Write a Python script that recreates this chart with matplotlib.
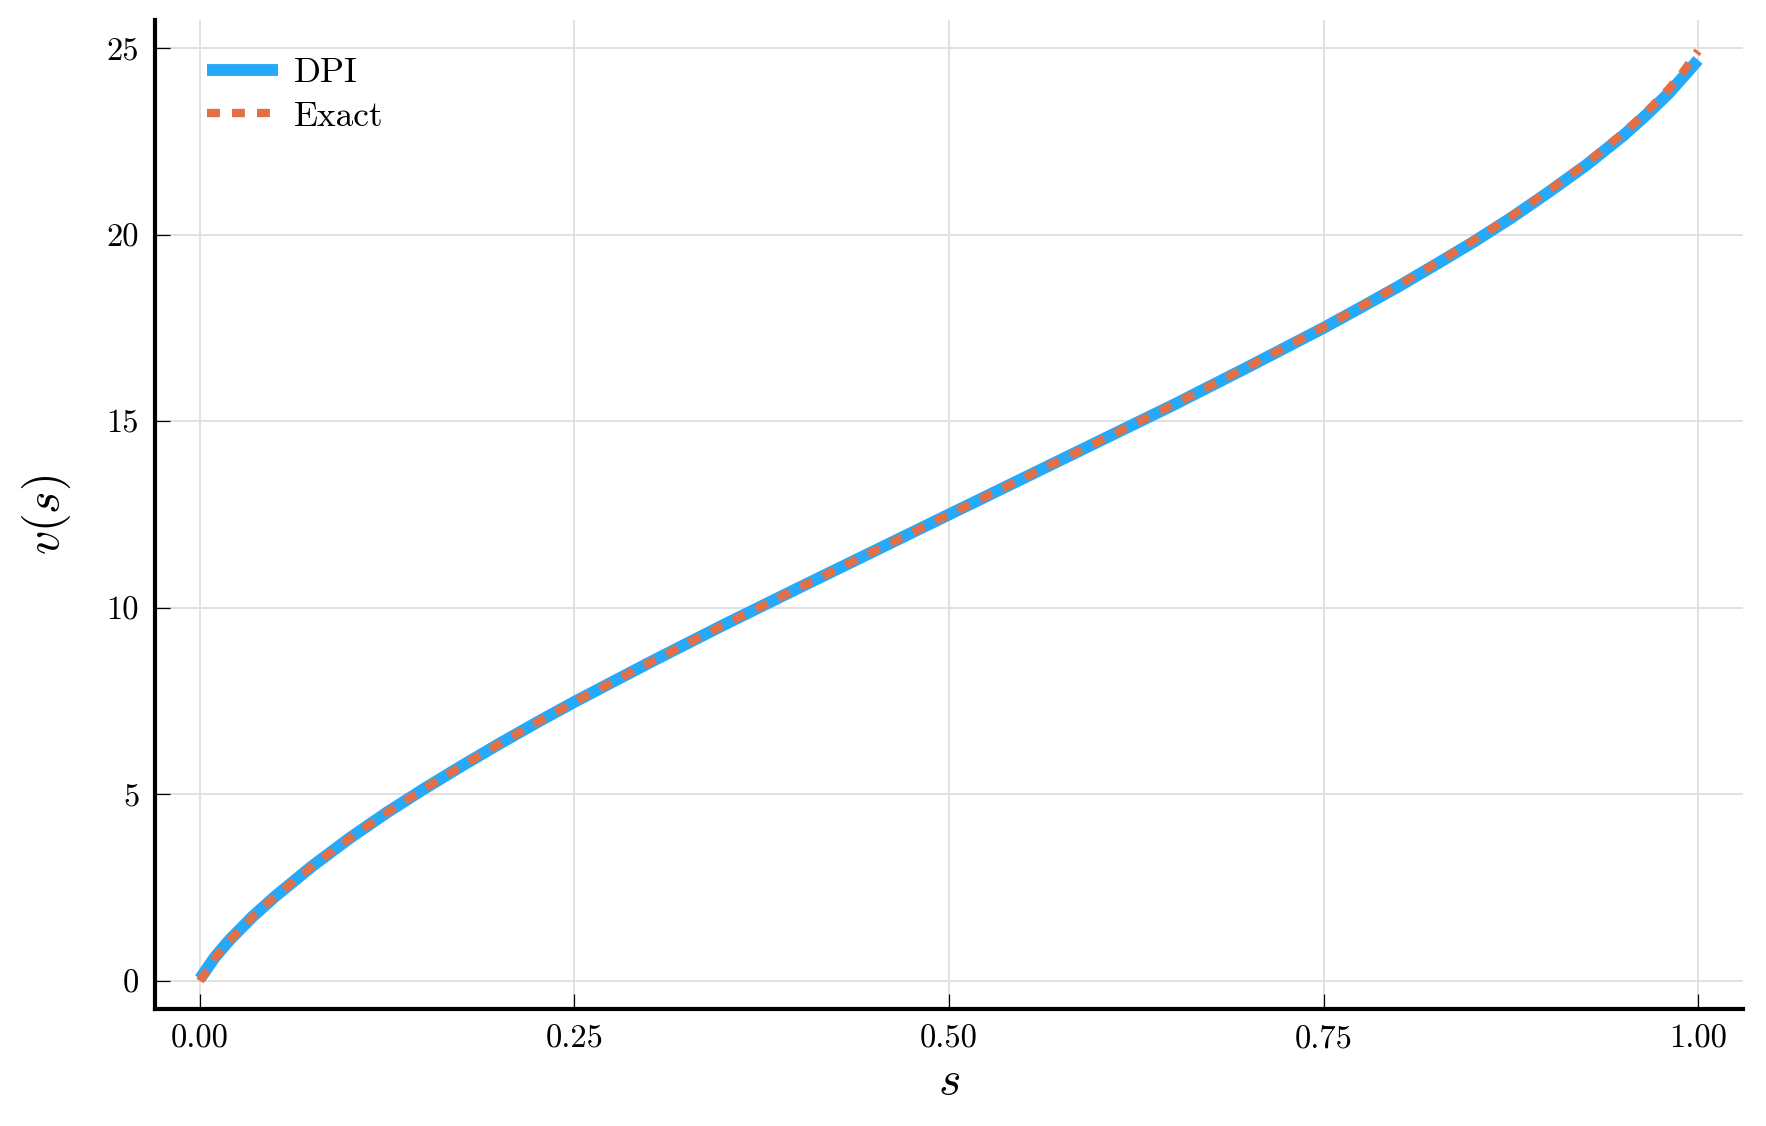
import matplotlib
matplotlib.use("Agg")
import matplotlib.pyplot as plt

# ---- data ----
s_vals = [0.0, 0.01, 0.02, 0.035, 0.05, 0.075, 0.1, 0.125, 0.15, 0.175, 0.2,
          0.225, 0.25, 0.3, 0.35, 0.4, 0.45, 0.5, 0.55, 0.6, 0.65, 0.7, 0.75,
          0.775, 0.8, 0.825, 0.85, 0.875, 0.9, 0.925, 0.95, 0.965, 0.98, 0.99, 1.0]
v_exact = [0.0, 0.62, 1.1, 1.72, 2.26, 3.08, 3.83, 4.52, 5.16, 5.77, 6.36,
           6.93, 7.48, 8.53, 9.55, 10.54, 11.52, 12.5, 13.48, 14.46, 15.45, 16.47, 17.52,
           18.07, 18.64, 19.23, 19.84, 20.48, 21.17, 21.9, 22.72, 23.26, 23.88, 24.36, 24.92]
v_dpi = [0.06, 0.64, 1.11, 1.72, 2.26, 3.08, 3.83, 4.52, 5.16, 5.77, 6.36,
         6.93, 7.48, 8.53, 9.55, 10.54, 11.52, 12.5, 13.48, 14.46, 15.44, 16.46, 17.5,
         18.05, 18.61, 19.2, 19.8, 20.44, 21.13, 21.85, 22.65, 23.19, 23.77, 24.22, 24.68]
xticks = [0.0, 0.25, 0.5, 0.75, 1.0]
xtick_labels = ["0.00", "0.25", "0.50", "0.75", "1.00"]
yticks = [0, 5, 10, 15, 20, 25]
ytick_labels = ["0", "5", "10", "15", "20", "25"]
series_labels = ["DPI", "Exact"]

plt.rcParams["font.family"] = "serif"
plt.rcParams["font.serif"] = ["cmr10", "DejaVu Serif"]
plt.rcParams["mathtext.fontset"] = "cm"
plt.rcParams["axes.formatter.use_mathtext"] = True
plt.rcParams["lines.scale_dashes"] = False

DPI = 300
fig = plt.figure(figsize=(1766 / DPI, 1126 / DPI), dpi=DPI)
ax = fig.add_axes([155 / 1766, 1 - 1009 / 1126, (1743 - 155) / 1766, (1009 - 20) / 1126])

ax.plot(s_vals, v_dpi, color="#27A9FA", lw=2.85, solid_capstyle="butt",
        label=series_labels[0], zorder=3)
ax.plot(s_vals, v_exact, color="#E36F47", lw=2.0, dashes=(3.1, 2.9),
        dash_capstyle="butt", label=series_labels[1], zorder=4)

ax.set_xlim(-0.03, 1.03)
ax.set_ylim(-0.75, 25.75)
ax.set_xticks(xticks)
ax.set_xticklabels(xtick_labels)
ax.set_yticks(yticks)
ax.set_yticklabels(ytick_labels)

ax.grid(True, color="#e0e0e0", lw=0.45, zorder=0)
ax.set_axisbelow(True)
for side in ["top", "right"]:
    ax.spines[side].set_visible(False)
for side in ["left", "bottom"]:
    ax.spines[side].set_linewidth(1.0)
ax.tick_params(axis="both", direction="in", length=3.6, width=0.3,
               labelsize=7.8, pad=3.8, color="black")

ax.set_xlabel("$s$", fontsize=11.5, labelpad=1.4)
ax.set_ylabel("$v(s)$", fontsize=11.5, labelpad=8)

leg = ax.legend(loc="upper left", bbox_to_anchor=(0.033, 0.962), frameon=False,
                fontsize=8.5, handlelength=2.0, handletextpad=0.45,
                labelspacing=0.33, borderaxespad=0, borderpad=0)

fig.savefig("out.png", dpi=DPI)
